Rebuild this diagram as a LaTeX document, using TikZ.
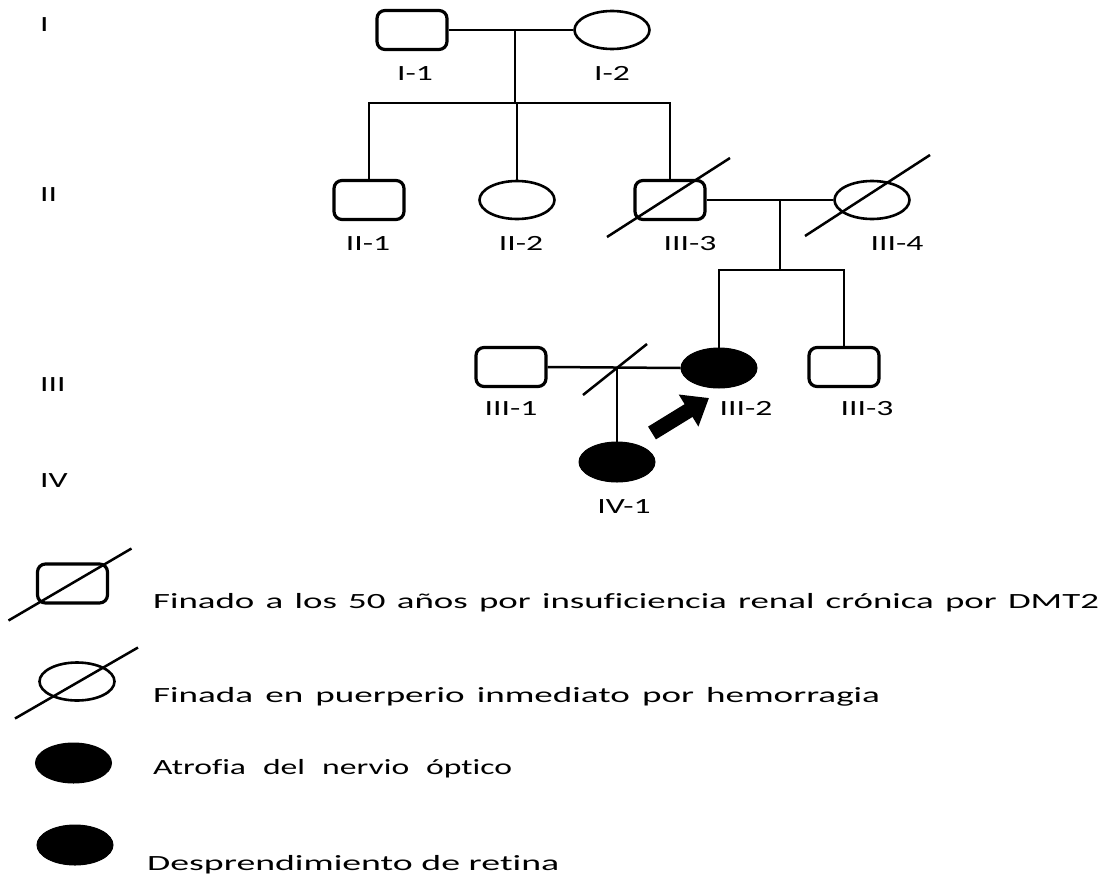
\documentclass[tikz,border=0pt]{standalone}
\usepackage{fontspec}
\setmainfont{Carlito}[Ligatures={NoCommon}]
\usetikzlibrary{shapes.geometric,arrows.meta}
% horizontally widened text
\newcommand{\wtxt}[1]{\scalebox{1.55}[1]{#1}}
% legend line: glyph stretch, unscaled box width, text (word spaces fill the box)
\newcommand{\legline}[3]{\scalebox{#1}[1]{\makebox[#2pt][s]{#3}}}
\begin{document}
\begin{tikzpicture}[x=1pt,y=-1pt,
  lw/.style={line width=2.5pt},
  male/.style={draw,line width=3.2pt,rounded corners=8pt,minimum width=70pt,minimum height=39pt,inner sep=0pt},
  female/.style={draw,ellipse,line width=2.6pt,minimum width=75pt,minimum height=38pt,inner sep=0pt},
  affected/.style={draw,fill=black,ellipse,line width=1pt,minimum width=76pt,minimum height=40pt,inner sep=0pt},
  txt/.style={inner sep=0pt,font=\fontsize{21.7}{26}\selectfont},
  lbl/.style={txt,anchor=base},
  gen/.style={txt,anchor=base west},
  legtxt/.style={txt,anchor=base west},
  pointer/.style={line width=15pt,-{Triangle[length=24pt,width=36pt]}}
]
\useasboundingbox (0,0) rectangle (1107,875);

% generation numerals
\node[gen] (gI)   at (40,32)  {\wtxt{I}};
\node[gen] (gII)  at (40,201) {\wtxt{II}};
\node[gen] (gIII) at (40,391) {\wtxt{III}};
\node[gen] (gIV)  at (40,487) {\wtxt{IV}};

% generation I
\node[male]   (I1) at (412,30) {};
\node[female] (I2) at (612,30) {};
\node[lbl] (lI1) at (415,80) {\wtxt{I-1}};
\node[lbl] (lI2) at (612,80) {\wtxt{I-2}};

% generation II
\node[male]   (II1) at (369,200) {};
\node[female] (II2) at (517,200) {};
\node[male]   (II3) at (670,200) {};
\node[female] (II4) at (872,200) {};
\node[lbl] (lII1) at (368,250) {\wtxt{II-1}};
\node[lbl] (lII2) at (521,250) {\wtxt{II-2}};
\node[lbl] (lII3) at (690,250) {\wtxt{III-3}};
\node[lbl] (lII4) at (897,250) {\wtxt{III-4}};
% deceased marks
\draw[lw] ([shift={(-63,37)}]II3.center) -- ([shift={(60,-42)}]II3.center);
\draw[lw] ([shift={(-67,36)}]II4.center) -- ([shift={(58,-45)}]II4.center);

% generation III
\node[male]     (III1) at (511,367) {};
\node[affected] (III2) at (719,368) {};
\node[male]     (III3) at (844,367) {};
\node[lbl] (lIII1) at (511,415) {\wtxt{III-1}};
\node[lbl] (lIII2) at (746,415) {\wtxt{III-2}};
\node[lbl] (lIII3) at (867,415) {\wtxt{III-3}};

% generation IV
\node[affected] (IV1) at (617,462) {};
\node[lbl] (lIV1) at (624,513) {\wtxt{IV-1}};

% couple I and their children
\coordinate (u1) at (515,30);
\coordinate (s1) at (515,103);
\draw[lw] (I1.east) -- (I2.west);
\draw[lw] (u1) -- (s1);
\draw[lw] (II1.north) |- (s1) -| (II3.north);
\draw[lw] (s1 -| II2.north) -- (II2.north);

% couple II and their children
\coordinate (u2) at (780,200);
\coordinate (s2) at (780,270);
\draw[lw] (II3.east) -- (II4.west);
\draw[lw] (u2) -- (s2);
\draw[lw] (III2.north) |- (s2) -| (III3.north);

% separated couple III and their child
\coordinate (u3) at (617,367);
\draw[lw] (III1.east) -- (III2.west);
\draw[lw] (u3) -- (IV1.north);
\draw[lw] ([shift={(-34,28)}]u3) -- ([shift={(30,-23)}]u3);

% proband pointer
\coordinate (pt) at (652,433);
\coordinate (ph) at (709,398);
\draw[pointer] (pt) -- (ph);

% legend
\node[male]     (Lm) at (72.5,583.5) {};
\draw[lw] ([shift={(-64,37)}]Lm.center) -- ([shift={(59,-35)}]Lm.center);
\node[female]   (Lf) at (77,681.5) {};
\draw[lw] ([shift={(-62,37)}]Lf.center) -- ([shift={(61,-34)}]Lf.center);
\node[affected] (La) at (73.5,763) {};
\node[affected] (Lb) at (75,845) {};
\node[legtxt] (t1) at (153,608) {\legline{1.7}{556.5}{Finado a los 50 años por insuficiencia renal crónica por DMT2}};
\node[legtxt] (t2) at (153,702) {\legline{1.71}{425.1}{Finada en puerperio inmediato por hemorragia}};
\node[legtxt] (t3) at (153,774) {\legline{1.55}{231.6}{Atrofia del nervio óptico}};
\node[legtxt] (t4) at (147,870) {\legline{1.74}{236.8}{Desprendimiento de retina}};
\end{tikzpicture}
\end{document}
